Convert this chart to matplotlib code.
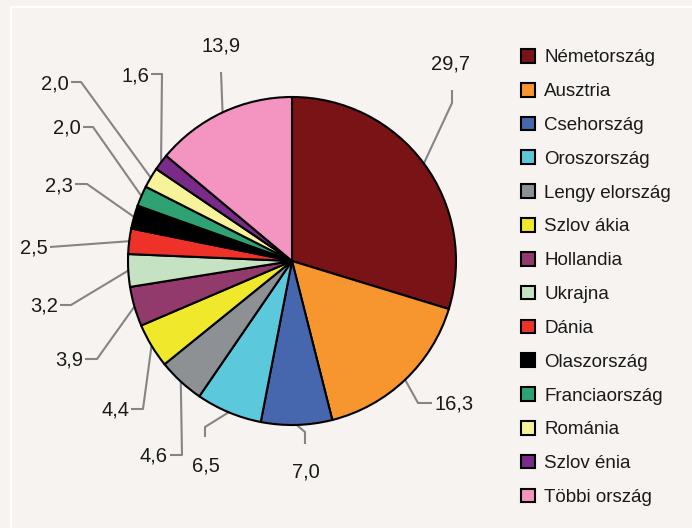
import numpy as np
import matplotlib
matplotlib.use('Agg')
import matplotlib.pyplot as plt
from matplotlib.lines import Line2D

W, H = 692, 528

countries = ['Németország', 'Ausztria', 'Csehország', 'Oroszország',
             'Lengy elország', 'Szlov ákia', 'Hollandia', 'Ukrajna', 'Dánia',
             'Olaszország', 'Franciaország', 'Románia', 'Szlov énia',
             'Többi ország']
shares = [29.7, 16.3, 7.0, 6.5, 4.6, 4.4, 3.9, 3.2, 2.5, 2.3, 2.0, 2.0, 1.6, 13.9]
share_labels = ['29,7', '16,3', '7,0', '6,5', '4,6', '4,4', '3,9', '3,2', '2,5',
                '2,3', '2,0', '2,0', '1,6', '13,9']
colors = ['#7a1315', '#f7962e', '#4666ae', '#5bc8db', '#8e9194', '#f0e82a',
          '#933a6c', '#c5e3c3', '#ee3229', '#000000', '#2fa273', '#f7f39a',
          '#7a2b8a', '#f395c0']

# leader line bends and label anchors, in pixels from the top left
bends = [[(452, 103), (452, 90)], [(418, 403), (432, 403)], [(305, 432), (305, 444)],
         [(205, 427), (205, 437)], [(182, 455), (170, 455)], [(143, 409), (131, 409)],
         [(97, 359), (85, 359)], [(71, 305), (60, 305)], [(50, 247)],
         [(87, 184), (75, 184)], [(93, 127), (83, 127)], [(81, 82), (71, 82)],
         [(162, 74), (151, 74)], [(221, 72)]]
text_pos = [(450, 69, 'center'), (434, 409, 'left'), (306, 477, 'center'),
            (206, 472, 'center'), (168, 462, 'right'), (129, 415, 'right'),
            (83, 366, 'right'), (58, 312, 'right'), (48, 253, 'right'),
            (73, 192, 'right'), (81, 133, 'right'), (69, 89, 'right'),
            (149, 82, 'right'), (221, 52, 'center')]

plt.rcParams['font.family'] = ['Liberation Sans Narrow', 'Liberation Sans', 'DejaVu Sans']
bg = '#f6f3f0'
grey = '#858585'

fig = plt.figure(figsize=(W / 100, H / 100), dpi=100, facecolor=bg)
ax = fig.add_axes([0, 0, 1, 1])
ax.set_facecolor(bg)

cx, cy, r = 292, H - 261, 164
wedges, _ = ax.pie(shares, colors=colors, startangle=90, counterclock=False,
                   center=(cx, cy), radius=r,
                   wedgeprops=dict(edgecolor='black', linewidth=1.5))

for w, pts, (tx, ty, ha), lab in zip(wedges, bends, text_pos, share_labels):
    mid = np.deg2rad((w.theta1 + w.theta2) / 2)
    xs = [cx + r * np.cos(mid)] + [p[0] for p in pts]
    ys = [cy + r * np.sin(mid)] + [H - p[1] for p in pts]
    ax.plot(xs, ys, color=grey, lw=1.5, solid_capstyle='butt', zorder=0)
    ax.text(tx, H - ty, lab, ha=ha, va='baseline', fontsize=14.5, color='#1a1a1a')

ax.set_xlim(0, W)
ax.set_ylim(0, H)
ax.set_aspect('equal')
ax.axis('off')

leg = ax.legend(wedges, countries, loc='upper left',
                bbox_to_anchor=(521 / W, 1 - 49 / H), bbox_transform=fig.transFigure,
                frameon=False, fontsize=13.5, borderpad=0, borderaxespad=0,
                handlelength=0.75, handleheight=0.75, handletextpad=0.48,
                labelspacing=0.875)
for t in leg.get_texts():
    t.set_color('#1a1a1a')

# white frame of the panel
fig.add_artist(Line2D([11 / W, 1], [1 - 7 / H, 1 - 7 / H], color='white', lw=1.6,
                      transform=fig.transFigure))
fig.add_artist(Line2D([11 / W, 11 / W], [0, 1 - 7 / H], color='white', lw=1.6,
                      transform=fig.transFigure))

plt.savefig('out.png', dpi=100, facecolor=bg)
